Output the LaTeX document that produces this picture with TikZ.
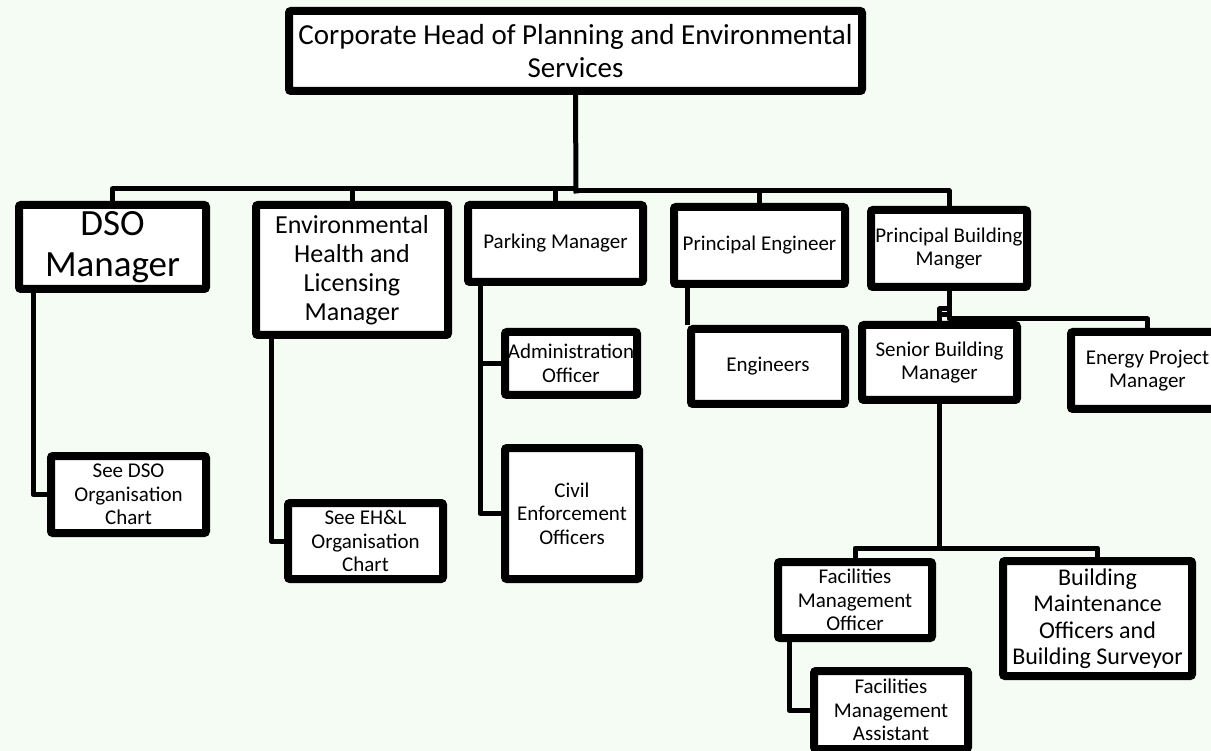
\documentclass[tikz,border=0pt]{standalone}
\usepackage{fontspec}
\setmainfont{Carlito}
\usetikzlibrary{shadows}
\definecolor{bgmint}{RGB}{244,252,243}
\tikzset{
  box/.style={draw=black, fill=white, line width=8pt, rounded corners=2pt, inner sep=0pt, align=center,
    drop shadow={shadow xshift=2pt, shadow yshift=-3pt, opacity=0.25, fill=black!70}},
  conn/.style={draw=black, line width=5pt, line join=round},
  fsmall/.style={font=\fontsize{21}{23.5}\selectfont},
  fmid/.style={font=\fontsize{24}{26.5}\selectfont},
  fehl/.style={font=\fontsize{26}{29}\selectfont},
  ftop/.style={font=\fontsize{29}{33}\selectfont},
  fbig/.style={font=\fontsize{37}{41}\selectfont},
}
\begin{document}
\begin{tikzpicture}[x=1pt,y=-1pt]
\useasboundingbox (0,0) rectangle (1211,751);
\fill[bgmint] (0,0) rectangle (1211,751);

% nodes
\node[box, ftop, minimum width=573pt, minimum height=80pt] (top) at (575.5,51) {Corporate Head of Planning and Environmental\\Services};
\node[box, fbig, minimum width=187pt, minimum height=84pt] (dso) at (112.5,247) {DSO\\Manager};
\node[box, fehl, minimum width=192pt, minimum height=130pt] (ehl) at (352,270) {Environmental\\Health and\\Licensing\\Manager};
\node[box, fsmall, minimum width=175pt, minimum height=77pt] (park) at (555.5,243.5) {Parking Manager};
\node[box, fsmall, minimum width=171pt, minimum height=77pt] (pe) at (759.5,245.5) {Principal Engineer};
\node[box, fsmall, minimum width=156pt, minimum height=77pt] (pbm) at (949,248.5) {Principal Building\\Manger};
\node[box, fsmall, minimum width=155pt, minimum height=77pt] (seedso) at (128.5,494.5) {See DSO\\Organisation\\Chart};
\node[box, fsmall, minimum width=155pt, minimum height=76pt] (seeehl) at (365.5,541) {See EH\&L\\Organisation\\Chart};
\node[box, fsmall, minimum width=132pt, minimum height=63pt] (admin) at (571,363.5) {Administration\\Officer};
\node[box, fsmall, minimum width=134pt, minimum height=131pt] (civil) at (572,513.5) {Civil\\Enforcement\\Officers};
\node[box, fsmall, minimum width=154pt, minimum height=75pt] (eng) at (768,366.5) {Engineers};
\node[box, fsmall, minimum width=155pt, minimum height=75pt] (sbm) at (939.5,362.5) {Senior Building\\Manager};
\node[box, fsmall, minimum width=153pt, minimum height=77pt] (energy) at (1147.5,370.5) {Energy Project\\Manager};
\node[box, fsmall, minimum width=154pt, minimum height=76pt] (fmo) at (855,600) {Facilities\\Management\\Officer};
\node[box, fmid, minimum width=189pt, minimum height=115pt] (bmo) at (1097.5,618.5) {Building\\Maintenance\\Officers and\\Building Surveyor};
\node[box, fsmall, minimum width=154pt, minimum height=78pt] (fma) at (891,710) {Facilities\\Management\\Assistant};

% hubs of the top bus
\coordinate (hubL) at (576,189);
\coordinate (hubR) at (576,191);

% connectors
\draw[conn] (top.south) -- (576,193.5);
\draw[conn] (hubL) -| (dso.north);
\draw[conn] (hubL) -| (ehl.north);
\draw[conn] (hubL) -| (park.north);
\draw[conn] (hubR) -| (pe.north);
\draw[conn] (hubR) -| (pbm.north);

\draw[conn] (dso.south west) ++(18,0) |- (seedso.west);
\draw[conn] (ehl.south west) ++(19,0) |- (seeehl.west);
\draw[conn] (park.south west) ++(16,0) |- (admin.west);
\draw[conn] (park.south west) ++(16,0) |- (civil.west);
\draw[conn] (eng.north west |- pe.south) -- (eng.north west);

\draw[conn] (pbm.south) -- ++(0,28) -| (energy.north);
\draw[conn] (pbm.south) ++(0,18) -| (sbm.north);
\draw[conn] (sbm.north |- 0,315) -- ++(10,0);

\draw[conn] (sbm.south) -- ++(0,144) -| (fmo.north);
\draw[conn] (sbm.south) ++(0,144) -| (bmo.north);
\draw[conn] (fmo.south west) ++(15,0) |- (fma.west);
\end{tikzpicture}
\end{document}
